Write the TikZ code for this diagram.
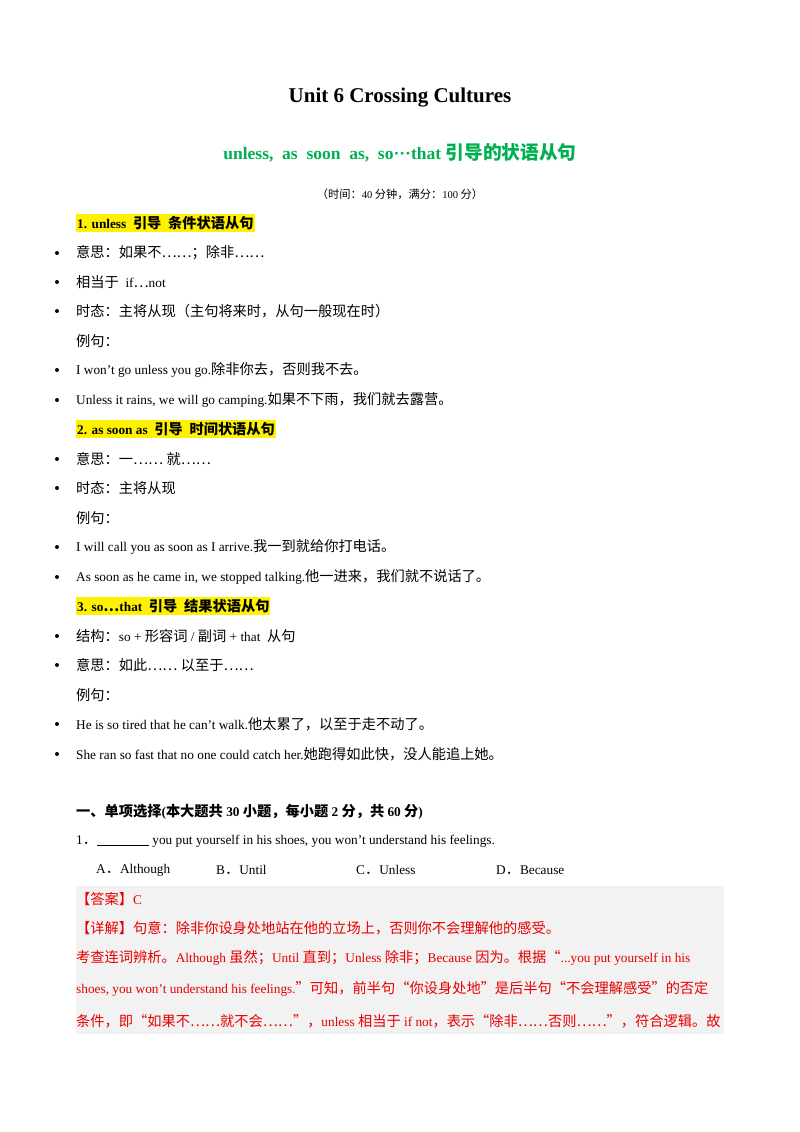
\documentclass[tikz,border=0pt]{standalone}
\usepackage{fontspec}
\setmainfont{Liberation Serif}
\newfontfamily\cjk{Noto Sans CJK SC}[Scale=1.07]
\XeTeXinterchartokenstate=1
\newXeTeXintercharclass\cjkclass
\newcount\cc
\cc="4E00 \loop \XeTeXcharclass\cc=\cjkclass \advance\cc 1 \ifnum\cc<"A000 \repeat
\cc="3000 \loop \XeTeXcharclass\cc=\cjkclass \advance\cc 1 \ifnum\cc<"3040 \repeat
\cc="FF00 \loop \XeTeXcharclass\cc=\cjkclass \advance\cc 1 \ifnum\cc<"FFF0 \repeat
\XeTeXcharclass"201C=\cjkclass \XeTeXcharclass"201D=\cjkclass \XeTeXcharclass"2026=\cjkclass
\XeTeXinterchartoks 0 \cjkclass = {\begingroup\cjk}
\XeTeXinterchartoks 4095 \cjkclass = {\begingroup\cjk}
\XeTeXinterchartoks \cjkclass 0 = {\endgroup}
\XeTeXinterchartoks \cjkclass 4095 = {\endgroup}
\definecolor{tgreen}{RGB}{0,176,80}
\definecolor{ansred}{RGB}{230,0,0}
\definecolor{boxgray}{RGB}{242,242,242}
\tikzset{
  body/.style={anchor=west,inner sep=0pt,font=\fontsize{13.3}{16}\selectfont},
  head/.style={anchor=west,inner xsep=1pt,inner ysep=2pt,fill=yellow,font=\fontsize{13.3}{16}\selectfont\bfseries},
  bul/.style={circle,fill=black,inner sep=0pt,minimum size=4pt},
  ans/.style={body,text=ansred}
}
\begin{document}
\begin{tikzpicture}[x=1pt,y=-1pt]
\useasboundingbox (0,0) rectangle (800,1132);
\node[font=\fontsize{21}{24}\selectfont\bfseries] (t) at (400,98) {Unit 6 Crossing Cultures};
\node[font=\fontsize{17.5}{20}\selectfont\bfseries,text=tgreen] (st) at (400,153) {unless,\ \ as\ \ soon\ \ as,\ \ so···that 引导的状语从句};
\node[font=\fontsize{10.5}{13}\selectfont] (tm) at (400,194) {（时间：40 分钟，满分：100 分）};
\node[head] (h1) at (76,223) {1. unless\ \ 引导\ \ 条件状语从句};
\foreach \y/\txt [count=\i] in {253/{意思：如果不……；除非……},282/{相当于\ \ if…not},311/{时态：主将从现（主句将来时，从句一般现在时）},370/{I won’t go unless you go.除非你去，否则我不去。},400/{Unless it rains, we will go camping.如果不下雨，我们就去露营。},459/{意思：一……\ 就……},488/{时态：主将从现},547/{I will call you as soon as I arrive.我一到就给你打电话。},577/{As soon as he came in, we stopped talking.他一进来，我们就不说话了。},636/{结构：so +\ 形容词\ /\ 副词\ + that\ \ 从句},665/{意思：如此……\ 以至于……},724/{He is so tired that he can’t walk.他太累了，以至于走不动了。},754/{She ran so fast that no one could catch her.她跑得如此快，没人能追上她。}}{
  \node[bul] (b\i) at (57,\y) {};
  \node[body] (l\i) at (76,\y) {\txt};
}
\node[body] (e1) at (76,341) {例句：};
\node[head] (h2) at (76,429) {2. as soon as\ \ 引导\ \ 时间状语从句};
\node[body] (e2) at (76,518) {例句：};
\node[head] (h3) at (76,606) {3. so…that\ \ 引导\ \ 结果状语从句};
\node[body] (e3) at (76,695) {例句：};
\node[body,font=\fontsize{13.3}{16}\selectfont\bfseries] (q) at (76,812) {一、单项选择(本大题共 30 小题，每小题 2 分，共 60 分)};
\node[body] (q1) at (76,841) {1．\underline{\hspace{52pt}} you put yourself in his shoes, you won’t understand his feelings.};
\node[body] (oa) at (96,870) {A．Although};
\node[body] (ob) at (216,870) {B．Until};
\node[body] (oc) at (356,870) {C．Unless};
\node[body] (od) at (496,870) {D．Because};
\fill[boxgray] (76,886) rectangle (724,1034);
\node[ans] (a0) at (76,899) {【答案】C};
\node[ans] (a1) at (76,928) {【详解】句意：除非你设身处地站在他的立场上，否则你不会理解他的感受。};
\node[ans] (a2) at (76,958) {考查连词辨析。Although 虽然；Until 直到；Unless 除非；Because 因为。根据“...you put yourself in his};
\node[ans] (a3) at (76,989) {shoes, you won’t understand his feelings.”可知，前半句“你设身处地”是后半句“不会理解感受”的否定};
\node[ans] (a4) at (76,1021) {条件，即“如果不……就不会……”，unless 相当于 if not，表示“除非……否则……”，符合逻辑。故};
\end{tikzpicture}
\end{document}
